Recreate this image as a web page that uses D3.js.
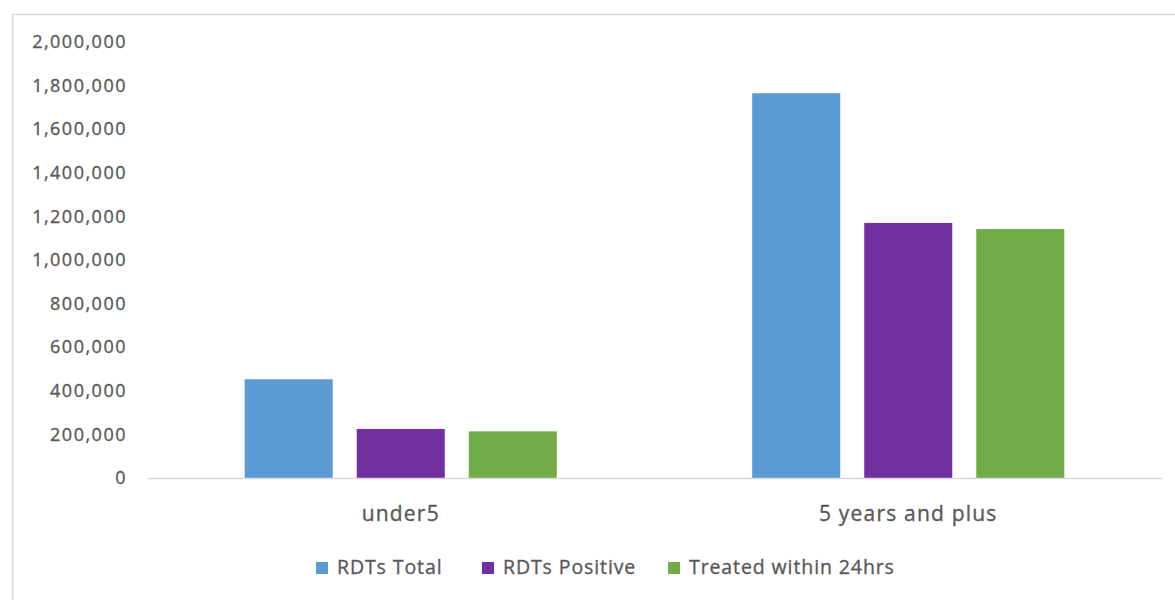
<!DOCTYPE html>
<html><head><meta charset="utf-8">
<script src="https://cdn.jsdelivr.net/npm/d3@7/dist/d3.min.js"></script>
<style>
html,body{margin:0;padding:0;background:#fff;}
svg text{font-family:"Open Sans",sans-serif;fill:#595959;stroke:#595959;stroke-width:0.35px;}
</style></head>
<body>
<svg id="chart" width="1175" height="600"></svg>
<script>
const categories = ["under5", "5 years and plus"];
const seriesNames = ["RDTs Total", "RDTs Positive", "Treated within 24hrs"];
const rdtsTotal = [453000, 1765000];
const rdtsPositive = [225000, 1170000];
const treated24 = [214000, 1142000];
const yTicks = [0, 200000, 400000, 600000, 800000, 1000000, 1200000, 1400000, 1600000, 1800000, 2000000];
const colors = ["#5B9BD5", "#7030A0", "#70AD47"];

const seriesValues = [rdtsTotal, rdtsPositive, treated24];
const svg = d3.select("#chart");

// chart frame
svg.append("rect").attr("x", 12.5).attr("y", 14.5).attr("width", 1200).attr("height", 620)
  .attr("fill", "#fff").attr("stroke", "#D9D9D9").attr("stroke-width", 1.5);

const plotLeft = 147, plotRight = 1162, plotTop = 42, plotBottom = 478;
const y = d3.scaleLinear().domain([0, 2000000]).range([plotBottom, plotTop]);
const p = 0.385;
const x0 = d3.scaleBand().domain(categories).range([plotLeft, plotRight]).paddingInner(p).paddingOuter(p / 2);
const x1 = d3.scaleBand().domain(seriesNames).range([0, x0.bandwidth()]).paddingInner(24 / 112).paddingOuter(0);

// y axis
const yAxis = svg.append("g").attr("transform", `translate(${plotLeft},0)`)
  .call(d3.axisLeft(y).tickValues(yTicks).tickSize(0).tickPadding(20).tickFormat(d3.format(",")));
yAxis.select(".domain").remove();
yAxis.selectAll("text").style("font-size", "18px").attr("letter-spacing", "1.5px")
  .attr("fill", "#595959").attr("font-family", null);

// bars
categories.forEach((c, ci) => {
  const g = svg.append("g").attr("transform", `translate(${x0(c)},0)`);
  seriesNames.forEach((s, si) => {
    const v = seriesValues[si][ci];
    g.append("rect").attr("x", x1(s)).attr("width", x1.bandwidth())
      .attr("y", y(v)).attr("height", y(0) - y(v)).attr("fill", colors[si]);
  });
});

// x axis
const xAxis = svg.append("g").attr("transform", `translate(0,${plotBottom})`)
  .call(d3.axisBottom(x0).tickSize(0).tickPadding(28));
xAxis.select(".domain").attr("stroke", "#D9D9D9").attr("stroke-width", 1.5);
xAxis.selectAll("text").style("font-size", "21px").attr("letter-spacing", "1.2px").attr("fill", "#595959");

// legend
const legendX = [316, 482, 668];
const legend = svg.append("g");
seriesNames.forEach((s, i) => {
  const g = legend.append("g").attr("transform", `translate(${legendX[i]},0)`);
  g.append("rect").attr("x", 0).attr("y", 562).attr("width", 12).attr("height", 12).attr("fill", colors[i]);
  g.append("text").attr("x", 21).attr("y", 567).attr("dy", "0.35em")
    .style("font-size", "19.5px").attr("letter-spacing", "0.9px").text(s);
});
</script>
</body></html>
